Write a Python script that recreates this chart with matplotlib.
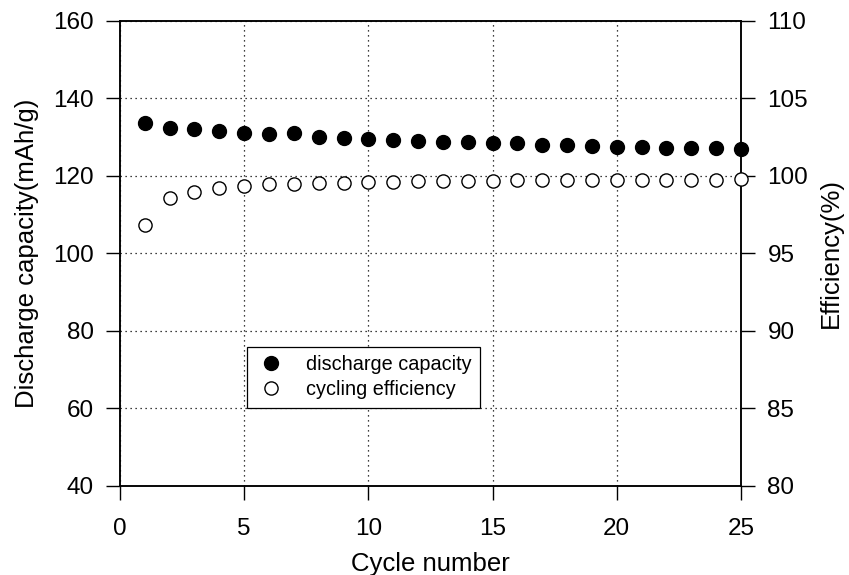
import numpy as np
import matplotlib
matplotlib.use("Agg")
import matplotlib.pyplot as plt

plt.rcParams['font.family'] = ['Liberation Sans', 'DejaVu Sans']

# cycle number
cycles = list(range(1, 26))

# discharge capacity (mAh/g), left axis
capacity = [133.6, 132.5, 132.1, 131.5, 131.1, 130.8, 131.0, 130.1, 129.8, 129.5,
            129.3, 129.1, 128.9, 128.7, 128.4, 128.4, 128.1, 127.9, 127.7, 127.5,
            127.5, 127.3, 127.3, 127.2, 126.9]

# cycling efficiency (%), right axis
efficiency = [96.85, 98.6, 98.97, 99.25, 99.35, 99.47, 99.5, 99.55, 99.55, 99.6,
              99.64, 99.67, 99.67, 99.68, 99.7, 99.72, 99.72, 99.74, 99.74, 99.76,
              99.76, 99.76, 99.76, 99.76, 99.8]

x_ticks = [0, 5, 10, 15, 20, 25]
left_ticks = [40, 60, 80, 100, 120, 140, 160]
right_ticks = [80, 85, 90, 95, 100, 105, 110]

fig = plt.figure(figsize=(8.49, 5.75), dpi=100)
ax = fig.add_axes([0.1413, 0.1548, 0.7315, 0.8087])
ax2 = ax.twinx()

fs = 17.5
lfs = 18.5
ax.set_xlim(0, 25)
ax.set_ylim(40, 160)
ax2.set_ylim(80, 110)
ax.set_xticks(x_ticks)
ax.set_yticks(left_ticks)
ax2.set_yticks(right_ticks)

ax.grid(True, color='black', linestyle=(0, (1, 3)), linewidth=0.9)
ax.set_axisbelow(True)

for a in (ax, ax2):
    a.tick_params(direction='out', length=10, width=1.0, labelsize=fs, pad=9)
    for s in a.spines.values():
        s.set_linewidth(1.1)
ax.tick_params(axis='x', pad=13)

h1, = ax.plot(cycles, capacity, 'o', color='black', markersize=10,
              linestyle='none', label='discharge capacity', clip_on=False, zorder=3)
h2, = ax2.plot(cycles, efficiency, 'o', markerfacecolor='white', markeredgecolor='black',
               markeredgewidth=1.0, markersize=9.5, linestyle='none',
               label='cycling efficiency', clip_on=False, zorder=3)

ax.set_xlabel('Cycle number', fontsize=lfs, labelpad=9)
ax.set_ylabel('Discharge capacity(mAh/g)', fontsize=lfs, labelpad=10)
ax2.set_ylabel('Efficiency(%)', fontsize=lfs, labelpad=8)

leg = ax2.legend(handles=[h1, h2], loc='lower left', bbox_to_anchor=(0.2045, 0.167),
                 fontsize=14.3, frameon=True, fancybox=False, borderaxespad=0,
                 handlelength=1.5, handletextpad=1.0, borderpad=0.45,
                 labelspacing=0.3, markerscale=1.0)
leg.get_frame().set_edgecolor('black')
leg.get_frame().set_linewidth(0.9)
leg.get_frame().set_alpha(1)

fig.savefig('out.png', dpi=100)
